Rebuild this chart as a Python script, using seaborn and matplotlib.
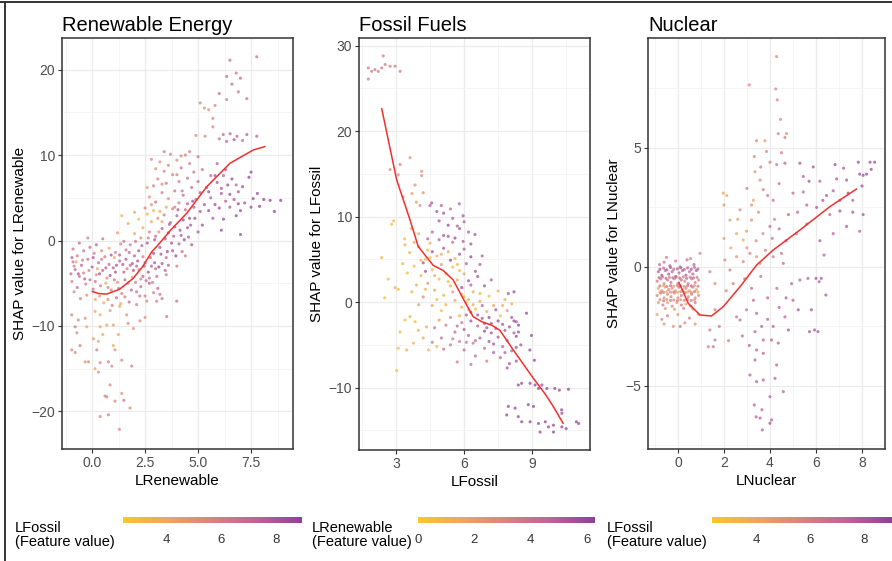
import numpy as np
import pandas as pd
import matplotlib
matplotlib.use("Agg")
import matplotlib.pyplot as plt
from matplotlib.colors import LinearSegmentedColormap, Normalize
from matplotlib.cm import ScalarMappable
from matplotlib.lines import Line2D
import seaborn as sns

# ---- data (x = feature value, y = SHAP value, c = colour feature) ----
ren_points = [
    (-0.9, -2.5, 6.5), (-0.8, -3.4, 7), (-0.7, -1.8, 6), (-0.6, -4.2, 6.5), (-0.5, -2.9, 7.5), (-0.4, -3.8, 5.5),
    (-0.3, -5.1, 6), (-0.2, -2.2, 7), (-0.1, -4.6, 6.5), (0.0, -3.1, 7.5), (0.1, -1.5, 6), (0.2, -4.0, 5),
    (0.3, -2.6, 7), (0.4, -5.3, 6), (0.5, -3.5, 7.5), (0.6, -1.9, 6.5), (0.7, -4.4, 5.5), (0.8, -2.8, 7),
    (0.9, -5.8, 6), (1.0, -3.2, 7.5), (1.1, -1.4, 6), (1.2, -4.9, 5), (1.3, -2.4, 7), (1.4, -6.2, 6),
    (1.5, -3.7, 7.5), (1.6, -1.1, 6.5), (1.7, -5.0, 6), (1.8, -2.9, 7), (1.9, -4.3, 4), (2.0, -1.8, 7.5),
    (-0.95, -4.8, 6), (-0.85, -6.0, 5.5), (-0.7, -5.5, 7), (-0.55, -6.8, 6), (-0.4, -1.2, 6.5), (-0.25, -6.4, 5),
    (-0.1, -0.8, 7), (0.05, -5.7, 6.5), (0.15, -6.9, 4), (0.35, -6.5, 4.5), (0.55, -7.3, 4), (0.75, -6.9, 5),
    (0.95, -7.6, 6), (1.15, -6.7, 7), (1.35, -7.4, 4), (1.55, -6.6, 6), (1.75, -7.2, 7), (2.1, -6.0, 6.5),
    (2.3, -5.4, 7), (2.5, -6.5, 6), (2.7, -5.0, 7.5), (2.9, -6.1, 6), (3.1, -5.6, 7.5), (3.3, -6.8, 6.5),
    (2.2, -3.4, 5), (2.4, -4.2, 7.5), (-0.9, -1.0, 6.5), (-0.6, -0.3, 7), (-0.2, 0.3, 6), (0.2, -0.5, 7.5),
    (0.5, 0.2, 6.5), (0.8, -0.9, 4), (-1.0, -3.9, 7), (-0.75, -2.5, 4), (0.25, -3.3, 4), (0.65, -5.0, 3.5),
    (1.05, -2.0, 4), (0.45, -1.2, 5),
    (-0.95, -2.0, 7.5), (-0.85, -3.0, 6), (-0.65, -3.9, 8), (-0.45, -2.3, 6), (-0.35, -4.5, 7.5), (-0.15, -3.5, 6),
    (0.05, -2.0, 8), (0.15, -4.8, 6.5), (0.35, -3.9, 8), (0.45, -2.2, 6), (0.65, -3.2, 7.5), (0.75, -5.5, 6),
    (0.85, -4.1, 8), (1.05, -4.6, 6.5), (1.15, -2.9, 8), (1.25, -5.6, 6), (1.45, -2.8, 8), (1.55, -4.6, 7),
    (1.65, -3.3, 6), (1.85, -5.8, 7.5), (1.95, -3.5, 8), (2.05, -4.9, 6), (2.15, -2.4, 8), (2.25, -6.5, 6.5),
    (2.45, -3.0, 8), (2.55, -4.7, 7), (2.65, -3.7, 8), (2.75, -2.0, 7.5), (2.85, -4.9, 6), (2.95, -2.6, 8),
    (3.05, -4.2, 7), (3.15, -3.1, 8.5), (3.25, -1.6, 8), (3.45, -3.5, 7.5), (3.55, -1.3, 8.5), (3.75, -0.3, 8),
    (3.85, 0.5, 7.5), (3.95, -1.8, 8.5), (4.15, 1.2, 8), (4.25, -1.3, 7), (4.35, 0.1, 8.5), (4.55, 0.4, 7.5),
    (4.65, 1.8, 8), (4.85, 2.6, 8.5), (5.0, 1.0, 8), (2.65, 0.3, 6), (2.35, -0.6, 7.5), (2.05, -0.1, 6.5),
    (1.75, -1.4, 7), (1.35, -0.4, 6), (3.45, 0.2, 8), (3.15, 1.0, 5), (2.95, 0.1, 8), (3.65, 1.9, 8),
    (1.6, -2.2, 8), (1.8, -0.5, 6), (2.0, 0.8, 4), (2.1, -3.0, 7.5), (2.2, -1.2, 8), (2.3, 0.3, 5),
    (2.4, 1.5, 3.5), (2.5, -2.6, 7), (2.6, -0.3, 8), (2.7, 1.0, 6), (2.8, 2.2, 4), (2.9, -1.5, 8.5),
    (3.0, 0.5, 7), (3.1, 2.6, 5), (3.2, -0.8, 8), (3.3, 1.4, 7.5), (3.4, 3.0, 6), (3.5, -2.0, 7),
    (3.6, 0.9, 8.5), (3.7, 2.1, 7), (3.8, 3.7, 5.5), (3.9, 1.6, 8), (4.0, 2.9, 7.5), (4.1, 4.4, 6),
    (4.2, 0.6, 8), (4.3, 2.4, 8.5), (4.4, 3.6, 7), (4.5, 1.5, 8), (2.2, 2.5, 3), (2.6, 3.1, 3.5),
    (2.0, 3.3, 4), (1.7, 2.0, 3.5), (1.4, 2.9, 3.5), (2.9, 3.5, 3), (3.2, 3.4, 3.5), (1.2, 0.9, 4.5),
    (1.5, -0.1, 6.5), (1.3, -1.7, 7.5), (3.0, -3.3, 7), (3.5, -4.0, 6), (2.7, -4.4, 6.5), (3.8, -1.2, 8),
    (4.1, -0.4, 7.5), (4.4, -1.8, 6), (3.3, -2.7, 8), (1.9, -2.7, 8), (2.4, -1.9, 6), (2.8, -3.0, 7.5),
    (3.6, -2.9, 7.5), (4.0, -3.0, 6), (4.7, -0.5, 8), (4.6, 2.6, 8.5), (4.8, 3.9, 8), (2.3, -4.5, 6),
    (1.1, -3.7, 8), (0.9, -1.7, 8),
    (2.5, 3.8, 5.5), (2.7, 5.1, 5), (2.9, 6.4, 6), (3.0, 4.5, 6.5), (3.1, 7.2, 5.5), (3.2, 9.2, 5),
    (3.3, 5.6, 6), (3.4, 8.1, 5.5), (3.5, 6.7, 6.5), (3.6, 4.9, 5), (3.7, 10.1, 5.5), (3.8, 7.7, 6),
    (3.9, 5.8, 6.5), (4.0, 9.4, 5.5), (4.1, 6.9, 6), (4.2, 8.5, 6.5), (4.3, 5.3, 7), (4.4, 10.0, 6),
    (4.5, 7.3, 6.5), (4.6, 9.0, 6), (4.7, 6.2, 7), (4.8, 8.0, 6.5), (4.9, 4.8, 7.5), (5.0, 6.9, 7),
    (3.0, 8.4, 5), (2.6, 6.2, 4.5), (2.8, 9.5, 5.5), (3.5, 3.9, 4), (3.3, 2.2, 4), (3.4, 10.4, 6),
    (3.9, 3.9, 6), (5.1, 5.6, 7.5), (5.2, 8.3, 6.5), (5.3, 4.2, 8), (5.0, 9.8, 6.5), (4.5, 4.3, 7.5),
    (4.05, 3.6, 8), (4.25, 5.8, 6.5), (4.75, 4.6, 8.5), (5.1, 3.4, 8), (3.6, 8.8, 5.5), (4.0, 7.7, 6),
    (3.3, 6.6, 5.5), (2.8, 4.2, 5), (4.6, 10.4, 6), (4.2, 9.9, 5.5),
    (5.4, 6.2, 8), (5.5, 3.5, 8.5), (5.6, 5.0, 7.5), (5.7, 2.6, 8), (5.8, 4.2, 8.5), (5.9, 6.8, 8),
    (6.0, 3.8, 8.5), (6.1, 5.5, 8), (6.2, 2.5, 8.5), (6.3, 4.6, 7.5), (6.4, 6.5, 8.5), (6.5, 3.9, 8),
    (6.6, 7.2, 8.5), (6.7, 4.8, 8), (6.8, 2.9, 8.5), (6.9, 5.7, 8), (7.0, 3.5, 8.5), (7.2, 4.4, 8),
    (7.4, 7.4, 9), (7.5, 3.9, 8.5), (7.6, 4.9, 8.5), (7.8, 5.5, 8.5), (8.1, 4.8, 9), (8.4, 4.7, 9),
    (8.9, 4.7, 9), (8.6, 3.4, 9), (7.0, 0.7, 8.5), (6.1, 1.2, 8.5), (6.8, 6.5, 7), (5.2, 1.8, 8.5),
    (7.5, 8.0, 8.5), (6.3, 8.3, 8), (5.9, 9.0, 7.5), (5.6, 7.6, 7), (7.9, 4.0, 9),
    (5.5, 5.7, 8.5), (5.8, 7.6, 8), (6.1, 6.1, 8), (6.5, 5.4, 8.5), (6.9, 4.3, 8.5), (7.1, 6.3, 8.5), (6.2, 7.6, 7.5),
    (7.77, 21.5, 6.5), (6.5, 21.1, 7), (6.35, 19.2, 7), (6.8, 19.6, 6.5), (7.3, 16.6, 6.5), (5.1, 16.1, 5.5),
    (5.5, 15.3, 5), (5.7, 14.3, 5.5), (6.0, 17.2, 7), (6.35, 16.5, 6), (6.9, 17.4, 6.5), (6.6, 18.3, 7),
    (5.3, 15.5, 5), (5.8, 15.8, 5.5), (7.0, 19.0, 7), (4.9, 12.3, 5.5), (5.33, 12.2, 5.5), (6.19, 12.4, 7),
    (6.51, 12.5, 7.5), (6.84, 12.2, 7), (7.3, 12.4, 7.5), (7.77, 12.2, 7.5), (6.35, 11.6, 7.5), (7.1, 11.7, 7),
    (6.0, 11.9, 6.5), (6.7, 11.8, 8), (5.7, 13.3, 5.5),
    (-0.96, -12.8, 5.5), (-0.8, -13.1, 5.5), (-0.57, -12.3, 6), (-0.33, -14.2, 5), (-0.17, -14.2, 5.5),
    (0.22, -12.8, 6), (0.38, -14.3, 5.5), (0.14, -15.0, 4), (0.3, -15.4, 5), (0.77, -14.2, 6),
    (0.93, -14.7, 5.5), (1.08, -12.8, 5), (1.4, -14.0, 5.5), (1.87, -14.7, 6), (0.85, -16.9, 5.5),
    (0.61, -18.2, 5.5), (0.69, -18.3, 6), (1.08, -18.8, 5.5), (1.4, -17.9, 5), (1.5, -18.7, 6),
    (1.79, -19.6, 5.5), (0.38, -20.6, 5.5), (0.77, -20.4, 6), (1.29, -22.1, 5.5),
    (-0.25, -10.1, 4), (0.38, -10.1, 3.5), (0.69, -9.9, 4), (0.06, -11.5, 4.5), (0.3, -11.8, 4),
    (1.0, -9.9, 4.5), (1.24, -11.0, 4), (1.7, -9.7, 5.5), (1.95, -10.3, 5), (2.26, -9.4, 5.5),
    (2.5, -9.0, 5), (-0.33, -9.1, 5), (-0.65, -9.3, 5.5), (-0.96, -8.7, 5.5), (-0.8, -10.1, 6),
    (-0.72, -10.8, 5.5), (0.14, -8.3, 4), (0.38, -8.7, 3.5), (0.85, -8.2, 4.5), (1.3, -7.7, 4),
    (1.63, -8.7, 5), (2.1, -7.5, 6), (2.58, -7.1, 5.5), (3.52, -8.9, 6.5), (3.99, -7.1, 7),
    (3.05, -7.1, 6), (3.2, -6.3, 6.5), (1.0, -12.3, 4), (0.5, -11.0, 4),
]
ren_smooth_x = [0.0, 0.3, 0.69, 1.3, 1.95, 2.4, 2.82, 3.05, 3.7, 4.47, 5.41, 6.51, 7.61, 8.16]
ren_smooth_y = [-5.96, -6.2, -6.27, -5.7, -4.4, -3.0, -1.3, -0.7, 1.2, 3.2, 6.3, 9.05, 10.6, 11.0]

fos_points = [
    (1.78, 27.4, 3.5), (1.78, 26.1, 3.5), (1.93, 27.0, 3.5), (2.22, 27.0, 3.5), (2.37, 27.4, 3.5),
    (2.44, 28.8, 3.5), (2.52, 27.8, 3.5), (2.74, 27.6, 3.5), (2.96, 27.6, 3.5), (3.18, 27.0, 3.5), (2.07, 27.2, 3.5),
    (2.74, 15.5, 2.5), (3.18, 16.1, 3), (3.1, 14.9, 2.5), (3.62, 16.9, 2.5), (4.13, 15.3, 2.5), (4.13, 14.8, 3),
    (3.84, 13.7, 2.5), (3.7, 12.7, 2), (4.2, 12.8, 2.5), (3.9, 11.7, 2), (4.06, 11.3, 2.5), (3.32, 12.3, 2),
    (2.81, 9.1, 0.5), (2.9, 9.5, 1), (3.38, 7.4, 0.5), (3.67, 8.6, 1),
    (4.57, 11.6, 5.5), (4.5, 11.3, 5), (5.1, 10.4, 5.5), (5.79, 11.5, 5), (5.96, 10.1, 5.5), (5.5, 9.8, 5),
    (4.9, 9.5, 5.5), (5.3, 9.0, 6), (5.8, 8.6, 5.5), (6.2, 8.2, 5), (6.48, 7.9, 5.5), (4.6, 8.2, 5),
    (5.1, 7.8, 5.5), (5.6, 7.5, 6), (5.96, 7.1, 5), (6.3, 6.8, 5.5), (5.0, 11.3, 5), (5.4, 10.9, 4.5),
    (5.3, 7.7, 5.5), (5.7, 8.9, 5), (4.8, 10.6, 5.5), (6.0, 9.4, 5), (4.4, 7.4, 5),
    (3.6, 5.8, 1), (3.8, 4.2, 0.5), (4.0, 6.5, 1.5), (4.1, 3.1, 1), (4.3, 5.0, 0.5), (4.4, 2.2, 2),
    (4.5, 6.9, 1), (4.6, 3.8, 0.5), (4.7, 1.4, 1.5), (4.8, 5.4, 1), (4.9, 2.7, 0.5), (5.0, 4.4, 2),
    (5.1, 0.8, 1), (5.2, 3.3, 0.5), (5.3, 5.9, 1.5), (5.4, 1.9, 1), (5.5, 4.1, 0.5), (5.6, 0.2, 1.5),
    (5.7, 2.6, 1), (5.8, 3.7, 0.5), (3.9, 2.0, 1.5), (4.2, 0.6, 2.5), (3.7, 1.2, 1), (4.6, -0.4, 1.5),
    (5.0, -1.0, 0.5), (4.0, -0.3, 2), (3.5, 3.4, 0.5), (3.4, 6.7, 1),
    (4.1, 4.9, 1), (4.4, 6.1, 0.5), (4.7, 3.1, 1), (5.0, 5.6, 1.5), (5.3, 2.4, 0.5), (5.6, 5.1, 1),
    (5.9, 0.9, 0.5), (4.3, 1.5, 1), (4.8, 0.3, 0.5), (5.2, -0.3, 1), (5.5, 1.2, 2), (5.8, -1.6, 1),
    (6.1, 0.0, 0.5), (6.4, -0.3, 1.5), (6.7, 1.0, 1), (6.2, -0.9, 0.5), (4.0, 8.0, 1), (3.8, 7.0, 1.5),
    (4.5, 5.2, 0.5), (5.7, 4.4, 1), (6.0, 3.3, 1.5), (3.3, 4.5, 1), (2.5, 0.5, 0.5), (7.7, -0.4, 1),
    (4.2, 4.6, 5.5), (4.6, 5.9, 6), (5.1, 6.3, 5.5), (5.4, 4.9, 6), (5.8, 5.6, 5.5), (6.1, 4.5, 5),
    (6.3, 5.3, 6), (6.5, 3.6, 5.5), (6.7, 4.4, 5), (6.2, 2.5, 5.5), (5.9, 1.7, 6), (6.0, 6.2, 5),
    (5.5, 7.0, 4.5), (4.9, 7.3, 5), (6.3, 2.0, 5), (6.6, 3.0, 5.5), (6.9, 1.9, 5.5), (7.2, 2.6, 5),
    (6.8, 5.4, 5), (4.3, 3.6, 5.5),
    (5.9, -0.6, 1), (6.0, 0.6, 0.5), (6.1, -1.5, 5), (6.2, 0.3, 1.5), (6.3, -2.2, 5.5), (6.4, 1.2, 1),
    (6.5, -0.8, 0.5), (6.6, -2.8, 5), (6.7, 0.1, 1.5), (6.8, -1.9, 5.5), (6.9, -3.4, 6), (7.0, -1.1, 1),
    (7.1, 0.7, 0.5), (7.2, -2.5, 5.5), (7.3, -0.4, 1.5), (7.4, -3.1, 5), (7.5, 1.3, 1), (7.6, -1.6, 0.5),
    (7.7, -2.6, 5.5), (7.8, 0.3, 1), (7.9, -1.0, 2), (8.0, -2.9, 5.5), (8.1, -0.2, 1), (8.2, -3.6, 5),
    (8.3, -2.3, 5.5), (8.4, -2.7, 6),
    (4.9, -2.1, 2), (5.4, -1.8, 3.5), (5.7, -2.8, 4.5), (6.0, -3.2, 5), (6.3, -1.2, 5.5), (6.6, -1.5, 5.5),
    (6.9, -2.5, 5.5), (7.2, -3.6, 5.5), (7.5, -2.2, 6), (7.8, -3.3, 5.5), (8.1, -1.8, 5.5), (8.4, -3.5, 5.5),
    (7.1, -1.8, 6), (7.4, -0.9, 5.5), (6.8, -0.4, 5), (8.2, -2.2, 6), (7.0, -3.0, 5.5),
    (4.7, -3.0, 4), (5.0, -4.2, 4.5), (5.2, -2.7, 3.5), (5.4, -5.0, 4), (5.6, -3.5, 4.5), (5.8, -4.6, 3.5),
    (5.9, -2.4, 4), (6.0, -5.6, 4.5), (6.2, -3.9, 5), (6.4, -4.8, 4), (6.5, -6.3, 4.5), (6.7, -4.2, 5),
    (6.9, -5.4, 4.5), (7.0, -6.9, 3.5), (7.1, -4.6, 5.5), (7.3, -5.9, 5), (7.5, -4.1, 5.5), (7.7, -5.2, 5),
    (7.9, -4.5, 5.5), (8.1, -5.7, 5), (8.3, -4.0, 6), (8.5, -5.0, 5.5), (7.6, -6.5, 5), (8.0, -7.2, 5.5),
    (6.3, -7.3, 4), (5.7, -7.0, 3.5), (6.5, -4.5, 4.5), (6.1, -4.7, 4), (5.5, -4.3, 3.5), (5.1, -5.5, 4),
    (4.6, -4.7, 4), (7.3, -4.9, 5.5), (7.8, -5.9, 5), (8.3, -5.3, 5.5),
    (2.37, 5.2, 1), (2.66, 2.7, 0.5), (2.96, 1.7, 1), (3.1, 1.5, 0.5), (3.4, -2.1, 0.5), (3.62, -1.7, 1),
    (3.84, -2.3, 0.5), (3.18, -3.5, 1), (3.1, -5.4, 0.5), (3.47, -5.6, 1), (3.77, -4.8, 0.5), (4.2, -4.2, 1.5),
    (4.43, -5.6, 1), (4.8, -5.2, 0.5), (3.03, -8.0, 0.5), (3.99, -3.3, 1), (4.35, -2.9, 1.5),
    (8.9, -5.6, 6), (9.1, -6.8, 6), (8.97, -3.9, 6), (8.75, -1.3, 6), (7.95, 1.0, 5.5), (8.2, 1.2, 6),
    (8.3, -6.9, 5.5), (7.9, -7.7, 5.5),
    (8.39, -9.7, 6), (8.54, -9.5, 6), (8.91, -9.5, 6), (9.13, -9.7, 6), (9.28, -10.1, 6), (9.43, -9.7, 6),
    (9.65, -10.1, 6), (10.0, -10.1, 6), (10.2, -10.3, 6), (10.6, -10.2, 6), (7.95, -12.2, 6), (8.25, -12.4, 6),
    (7.88, -13.2, 6), (8.39, -13.4, 6), (8.83, -12.0, 6), (9.06, -12.2, 6), (8.54, -14.0, 6), (8.91, -14.0, 6),
    (9.28, -14.2, 6), (9.58, -14.0, 6), (9.72, -14.6, 6), (9.94, -14.4, 6), (9.35, -15.2, 6), (9.94, -15.2, 6),
    (10.31, -13.0, 6), (10.31, -14.6, 6), (10.5, -14.8, 6), (10.95, -14.0, 6), (11.05, -14.2, 6), (10.3, -12.6, 6),
]
fos_smooth_x = [2.37, 3.03, 3.62, 3.98, 4.64, 5.08, 5.52, 5.96, 6.4, 6.78, 7.22, 7.58, 8.17, 9.05, 9.56, 9.93, 10.37]
fos_smooth_y = [22.65, 14.3, 9.6, 6.5, 4.3, 3.7, 2.6, 0.4, -1.7, -2.3, -2.7, -3.3, -5.6, -8.9, -10.7, -12.2, -14.2]

nuc_points = [
    (-0.85, -0.2, 7.5), (-0.7, -0.35, 8), (-0.55, -0.15, 7), (-0.4, -0.3, 8), (-0.25, -0.2, 7.5), (-0.1, -0.4, 8),
    (0.05, -0.25, 7), (0.2, -0.15, 7.5), (0.35, -0.35, 8), (0.5, -0.2, 7), (0.65, -0.3, 7.5), (0.8, -0.15, 8),
    (-0.78, -0.1, 8), (-0.62, -0.05, 7), (-0.48, -0.12, 7.5), (-0.32, -0.02, 8), (-0.18, -0.1, 7), (-0.02, -0.08, 7.5),
    (0.12, -0.03, 8), (0.28, -0.11, 7), (0.42, -0.04, 7.5), (0.58, -0.1, 8), (0.72, -0.02, 7), (0.87, -0.09, 7.5),
    (-0.9, -0.6, 6), (-0.75, -0.5, 6.5), (-0.6, -0.7, 5.5), (-0.45, -0.55, 6), (-0.3, -0.65, 6.5), (-0.15, -0.5, 5.5),
    (0.0, -0.7, 6), (0.15, -0.55, 6.5), (0.3, -0.6, 5.5), (0.45, -0.7, 6), (0.6, -0.5, 6.5), (0.75, -0.65, 6),
    (0.9, -0.55, 5.5), (-0.82, -0.45, 7), (-0.67, -0.42, 6.5), (-0.52, -0.48, 7), (-0.37, -0.44, 6), (-0.22, -0.46, 7),
    (-0.07, -0.43, 6.5), (0.08, -0.47, 7), (0.23, -0.42, 6), (0.38, -0.48, 7), (0.53, -0.43, 6.5), (0.68, -0.46, 7),
    (0.83, -0.44, 6),
    (-0.85, -0.9, 4), (-0.7, -1.0, 5.5), (-0.55, -0.85, 3.5), (-0.4, -0.95, 6), (-0.25, -0.9, 5), (-0.1, -1.0, 4),
    (0.05, -0.85, 6.5), (0.2, -0.95, 3.5), (0.35, -0.9, 5.5), (0.5, -1.0, 4.5), (0.65, -0.85, 6), (0.8, -0.95, 4),
    (-0.78, -0.8, 6.5), (-0.62, -0.78, 4.5), (-0.48, -0.82, 6), (-0.32, -0.79, 7), (-0.18, -0.81, 4.5), (-0.02, -0.78, 6),
    (0.12, -0.8, 7), (0.28, -0.82, 5), (0.42, -0.79, 6.5), (0.58, -0.8, 7), (0.72, -0.78, 4.5), (0.87, -0.81, 6),
    (-0.78, -1.05, 3.5), (-0.62, -1.07, 6), (-0.48, -1.04, 4), (-0.32, -1.06, 5.5), (-0.18, -1.05, 6.5), (-0.02, -1.07, 4),
    (0.12, -1.04, 5.5), (0.28, -1.06, 6), (0.42, -1.05, 4), (0.58, -1.07, 5.5), (0.72, -1.04, 6.5), (0.87, -1.06, 4),
    (-0.9, -1.2, 5.5), (-0.75, -1.1, 6), (-0.6, -1.3, 5), (-0.45, -1.15, 5.5), (-0.3, -1.25, 6), (-0.15, -1.1, 5),
    (0.0, -1.3, 5.5), (0.15, -1.2, 6), (0.3, -1.1, 5), (0.45, -1.25, 5.5), (0.6, -1.15, 6), (0.75, -1.3, 5),
    (0.9, -1.2, 5.5), (-0.78, -1.38, 5.5), (-0.62, -1.42, 6), (-0.48, -1.37, 5), (-0.32, -1.41, 6), (-0.18, -1.39, 5.5),
    (-0.02, -1.42, 6), (0.12, -1.38, 5), (0.28, -1.4, 6), (0.42, -1.37, 5.5), (0.58, -1.41, 6), (0.72, -1.39, 5),
    (-0.85, -1.5, 4.5), (-0.65, -1.6, 6), (-0.45, -1.5, 4), (-0.25, -1.65, 5.5), (-0.05, -1.5, 4.5), (0.15, -1.6, 6),
    (0.35, -1.55, 4), (0.55, -1.65, 5), (0.75, -1.5, 6), (-0.55, -1.75, 5), (-0.15, -1.78, 4.5), (0.25, -1.74, 6),
    (0.65, -1.77, 4.5),
    (-0.8, 0.1, 7), (-0.6, 0.2, 6.5), (-0.35, 0.05, 7.5), (-0.1, 0.25, 6), (0.1, 0.0, 7), (0.4, 0.3, 6.5),
    (0.7, 0.1, 7.5), (0.55, 0.35, 6), (-0.5, 0.4, 6),
    (-0.9, -2.0, 4), (-0.7, -2.2, 5.5), (-0.45, -2.05, 6), (-0.2, -2.5, 5), (0.0, -2.0, 4.5), (0.3, -2.35, 5.5),
    (0.5, -2.15, 6), (0.75, -2.4, 5), (0.9, -2.0, 4.5), (-0.6, -2.4, 5), (0.1, -2.5, 6),
    (4.29, 8.84, 5.5), (3.1, 7.65, 5.5), (4.25, 7.48, 5.5), (4.32, 7.02, 5.5), (4.46, 6.2, 5.5), (4.36, 5.6, 6),
    (4.72, 5.6, 5.5), (4.65, 5.44, 6), (3.42, 5.3, 5.5), (3.78, 5.3, 5), (3.85, 4.85, 5.5), (4.5, 4.8, 6),
    (3.32, 4.64, 5.5), (4.0, 4.4, 6), (4.29, 4.3, 6.5), (3.35, 4.0, 5), (3.57, 3.65, 5.5), (3.71, 3.25, 6),
    (4.14, 2.8, 6.5), (1.97, 3.1, 4), (2.12, 3.0, 4), (2.0, 2.6, 4.5), (3.28, 2.8, 4), (2.98, 1.5, 4.5),
    (3.2, 1.97, 5), (2.84, 1.13, 4), (2.26, 1.97, 4.5), (2.55, 1.4, 4),
    (3.0, 3.3, 6), (3.5, 2.3, 5.5), (3.9, 3.0, 6.5), (4.2, 2.0, 6), (3.7, 1.4, 5.5), (4.4, 3.5, 6.5),
    (3.2, 2.6, 5), (4.0, 1.7, 7), (2.7, 2.4, 5.5), (3.6, 4.2, 6),
    (2.0, 1.2, 4.5), (2.3, 0.8, 4), (2.6, 2.0, 4.5), (3.0, 0.8, 5), (3.4, 1.1, 5.5), (3.8, 0.7, 6),
    (4.1, 1.2, 6.5), (4.4, 1.6, 7), (4.8, 2.2, 7.5), (5.2, 2.3, 7.5), (5.7, 3.6, 8), (6.3, 2.8, 8),
    (6.9, 3.7, 8), (7.4, 3.1, 8.5), (8.0, 3.4, 8.5),
    (4.65, 4.36, 7.5), (5.3, 4.36, 8), (5.45, 3.8, 7.5), (5.88, 4.2, 8), (6.17, 3.6, 7.5), (6.83, 4.3, 8.5),
    (7.2, 4.15, 8), (7.84, 4.4, 8.5), (8.35, 4.4, 8.5), (8.55, 4.4, 8.5), (7.9, 3.9, 8.5), (8.05, 3.85, 8.5),
    (8.2, 3.9, 8.5), (8.4, 4.1, 8.5), (7.33, 3.65, 8), (6.75, 3.2, 7.5), (6.46, 3.0, 8), (5.45, 3.15, 7.5),
    (5.0, 3.1, 7), (5.6, 2.6, 7.5), (6.03, 2.5, 8), (6.6, 2.2, 7.5), (7.04, 2.35, 8), (7.6, 2.3, 8),
    (8.05, 2.2, 8), (7.9, 1.5, 7.5), (7.33, 1.7, 8), (6.75, 1.4, 7.5), (6.17, 1.1, 8), (5.6, 1.8, 7.5),
    (5.15, 1.4, 7), (4.7, 1.1, 7.5), (7.04, 2.8, 8), (7.6, 2.8, 7.5),
    (0.96, 0.57, 5.5), (1.39, -0.2, 6), (1.61, -0.7, 5.5), (1.61, -1.8, 6), (1.39, -2.65, 6), (1.61, -3.07, 6.5),
    (1.32, -3.35, 6), (1.54, -3.35, 6.5), (2.04, 0.29, 5.5), (2.26, -0.13, 6), (2.55, 0.43, 5), (2.84, 0.22, 5.5),
    (3.13, 0.57, 6), (3.42, 0.43, 5), (3.57, 0.15, 5.5), (4.14, 0.43, 6), (4.58, 0.15, 7), (4.5, 0.57, 6.5),
    (2.1, -1.0, 5.5), (2.4, -0.7, 6), (2.9, -0.5, 6), (3.2, -0.9, 7), (3.6, -0.4, 6.5), (3.9, -1.3, 7.5),
    (4.3, -0.9, 7), (4.7, -1.3, 7.5),
    (2.55, -2.1, 6.5), (2.7, -2.23, 7), (2.98, -1.8, 6.5), (3.28, -1.4, 7), (3.42, -1.95, 7.5), (3.35, -2.72, 7.5),
    (3.64, -2.5, 7.5), (3.71, -3.07, 7.5), (4.14, -2.5, 7.5), (4.07, -3.07, 7.5), (4.36, -3.2, 7.5), (4.65, -2.1, 7.5),
    (4.8, -2.65, 8), (4.94, -0.7, 7.5), (5.0, -1.4, 7.5), (5.23, -1.8, 8), (5.3, -0.55, 7.5), (5.65, -0.48, 7.5),
    (6.0, -0.48, 8), (6.23, -0.48, 8), (6.14, -0.62, 7.5), (6.43, -1.18, 8), (6.35, 0.5, 7.5), (5.8, -1.8, 8),
    (5.72, -2.72, 8), (5.94, -2.65, 8), (6.09, -2.72, 8),
    (1.8, -2.5, 6.5), (2.2, -3.1, 6), (2.8, -2.9, 7), (3.1, -3.3, 7.5), (3.9, -2.2, 7.5), (4.4, -1.7, 7.5),
    (3.13, -4.54, 7.5), (3.42, -4.82, 7.5), (3.71, -4.75, 7.5), (3.42, -3.49, 7.5), (3.71, -3.63, 7.5),
    (3.35, -3.91, 7.5), (4.29, -4.12, 7.5), (4.22, -4.68, 7.5), (4.58, -5.24, 7.5), (3.32, -5.8, 7.5),
    (3.65, -6.0, 7.5), (3.4, -6.3, 7.5), (3.57, -6.35, 7.5), (4.07, -6.43, 7.5), (4.0, -6.57, 8),
    (3.67, -6.85, 7.5), (4.0, -5.45, 7.5),
]
nuc_smooth_x = [0.04, 0.45, 0.96, 1.46, 1.97, 2.7, 3.42, 4.14, 5.3, 6.6, 7.77]
nuc_smooth_y = [-0.64, -1.53, -2.02, -2.06, -1.67, -0.83, 0.08, 0.71, 1.55, 2.53, 3.28]

# ---- style ----
sns.set_theme(style="white")
plt.rcParams["font.family"] = ["Liberation Sans", "DejaVu Sans"]

shap_cmap = LinearSegmentedColormap.from_list(
    "shap", ["#F9C62E", "#EDA561", "#D7837F", "#BE6397", "#8E409B"])

W, H = 892, 561
fig = plt.figure(figsize=(W / 100, H / 100), dpi=100, facecolor="white")


def px_rect(left, top, right, bottom):
    return [left / W, (H - bottom) / H, (right - left) / W, (bottom - top) / H]


panels = [
    dict(points=ren_points, sx=ren_smooth_x, sy=ren_smooth_y, rect=px_rect(62, 38, 293, 449),
         title="Renewable Energy", xlabel="LRenewable", ylabel="SHAP value for LRenewable",
         xlim=(-1.42, 9.48), ylim=(-24.4, 23.7), xmaj=[0, 2.5, 5, 7.5], xmin=[-1.25, 1.25, 3.75, 6.25, 8.75],
         xfmt="{:.1f}", ymaj=[-20, -10, 0, 10, 20], ymin=[-15, -5, 5, 15],
         cnorm=(2.4, 8.95), cticks=[4, 6, 8], clabel="LFossil\n(Feature value)",
         cbar=px_rect(123, 517, 302, 523), cx=15),
    dict(points=fos_points, sx=fos_smooth_x, sy=fos_smooth_y, rect=px_rect(359, 38, 590, 450),
         title="Fossil Fuels", xlabel="LFossil", ylabel="SHAP value for LFossil",
         xlim=(1.37, 11.55), ylim=(-17.3, 30.9), xmaj=[3, 6, 9], xmin=[1.5, 4.5, 7.5, 10.5],
         xfmt="{:.0f}", ymaj=[-10, 0, 10, 20, 30], ymin=[-15, -5, 5, 15, 25],
         cnorm=(0, 6.3), cticks=[0, 2, 4, 6], clabel="LRenewable\n(Feature value)",
         cbar=px_rect(418, 517, 595, 523), cx=312),
    dict(points=nuc_points, sx=nuc_smooth_x, sy=nuc_smooth_y, rect=px_rect(648, 38, 885, 449),
         title="Nuclear", xlabel="LNuclear", ylabel="SHAP value for LNuclear",
         xlim=(-1.3, 9.0), ylim=(-7.65, 9.62), xmaj=[0, 2, 4, 6, 8], xmin=[-1, 1, 3, 5, 7, 9],
         xfmt="{:.0f}", ymaj=[-5, 0, 5], ymin=[-7.5, -2.5, 2.5, 7.5],
         cnorm=(2.37, 9.04), cticks=[4, 6, 8], clabel="LFossil\n(Feature value)",
         cbar=px_rect(712, 517, 892, 523), cx=607),
]

for p in panels:
    ax = fig.add_axes(p["rect"])
    df = pd.DataFrame(p["points"], columns=["x", "y", "c"])
    smooth = pd.DataFrame({"x": p["sx"], "y": p["sy"]})

    sns.scatterplot(data=df, x="x", y="y", hue="c", palette=shap_cmap, hue_norm=p["cnorm"],
                    s=5, alpha=0.75, linewidth=0, legend=False, ax=ax, zorder=3)
    sns.lineplot(data=smooth, x="x", y="y", color="#F2302E", lw=1.1, ax=ax, zorder=4)

    ax.set_xlim(p["xlim"])
    ax.set_ylim(p["ylim"])
    ax.set_xticks(p["xmaj"])
    ax.set_xticklabels([p["xfmt"].format(v) for v in p["xmaj"]])
    ax.set_yticks(p["ymaj"])
    ax.set_xticks(p["xmin"], minor=True)
    ax.set_yticks(p["ymin"], minor=True)
    ax.grid(True, which="major", color="#EBEBEB", lw=0.9, zorder=0)
    ax.grid(True, which="minor", color="#F2F2F2", lw=0.5, zorder=0)
    ax.set_axisbelow(True)
    ax.tick_params(which="major", direction="out", length=3, width=0.8, color="#333333",
                   labelsize=10, labelcolor="#4D4D4D", pad=2, bottom=True, left=True)
    ax.tick_params(which="minor", length=0)
    for sp in ax.spines.values():
        sp.set_color("#333333")
        sp.set_linewidth(1.1)

    ax.set_title(p["title"], loc="left", fontsize=14.5, pad=5, color="black")
    ax.set_xlabel(p["xlabel"], fontsize=11, labelpad=3, color="black")
    ax.set_ylabel(p["ylabel"], fontsize=11, labelpad=3, color="black")

    # colour guide under each panel
    cax = fig.add_axes(p["cbar"])
    sm = ScalarMappable(norm=Normalize(*p["cnorm"]), cmap=shap_cmap)
    cb = fig.colorbar(sm, cax=cax, orientation="horizontal")
    cb.outline.set_visible(False)
    cb.set_ticks(p["cticks"])
    cax.tick_params(axis="x", direction="in", length=2, width=0.8, color="white",
                    labelsize=9.5, labelcolor="#333333", pad=8)
    fig.text(p["cx"] / W, (H - 535) / H, p["clabel"], fontsize=10.5, ha="left", va="center",
             linespacing=1.05, color="black")

# image frame lines (top and left) seen in the reference
fig.add_artist(Line2D([0, 1], [1 - 2 / H, 1 - 2 / H], transform=fig.transFigure, color="#333333", lw=1.4))
fig.add_artist(Line2D([5 / W, 5 / W], [0, 1 - 2 / H], transform=fig.transFigure, color="#333333", lw=1.4))

fig.savefig("out.png", dpi=100, facecolor="white")
